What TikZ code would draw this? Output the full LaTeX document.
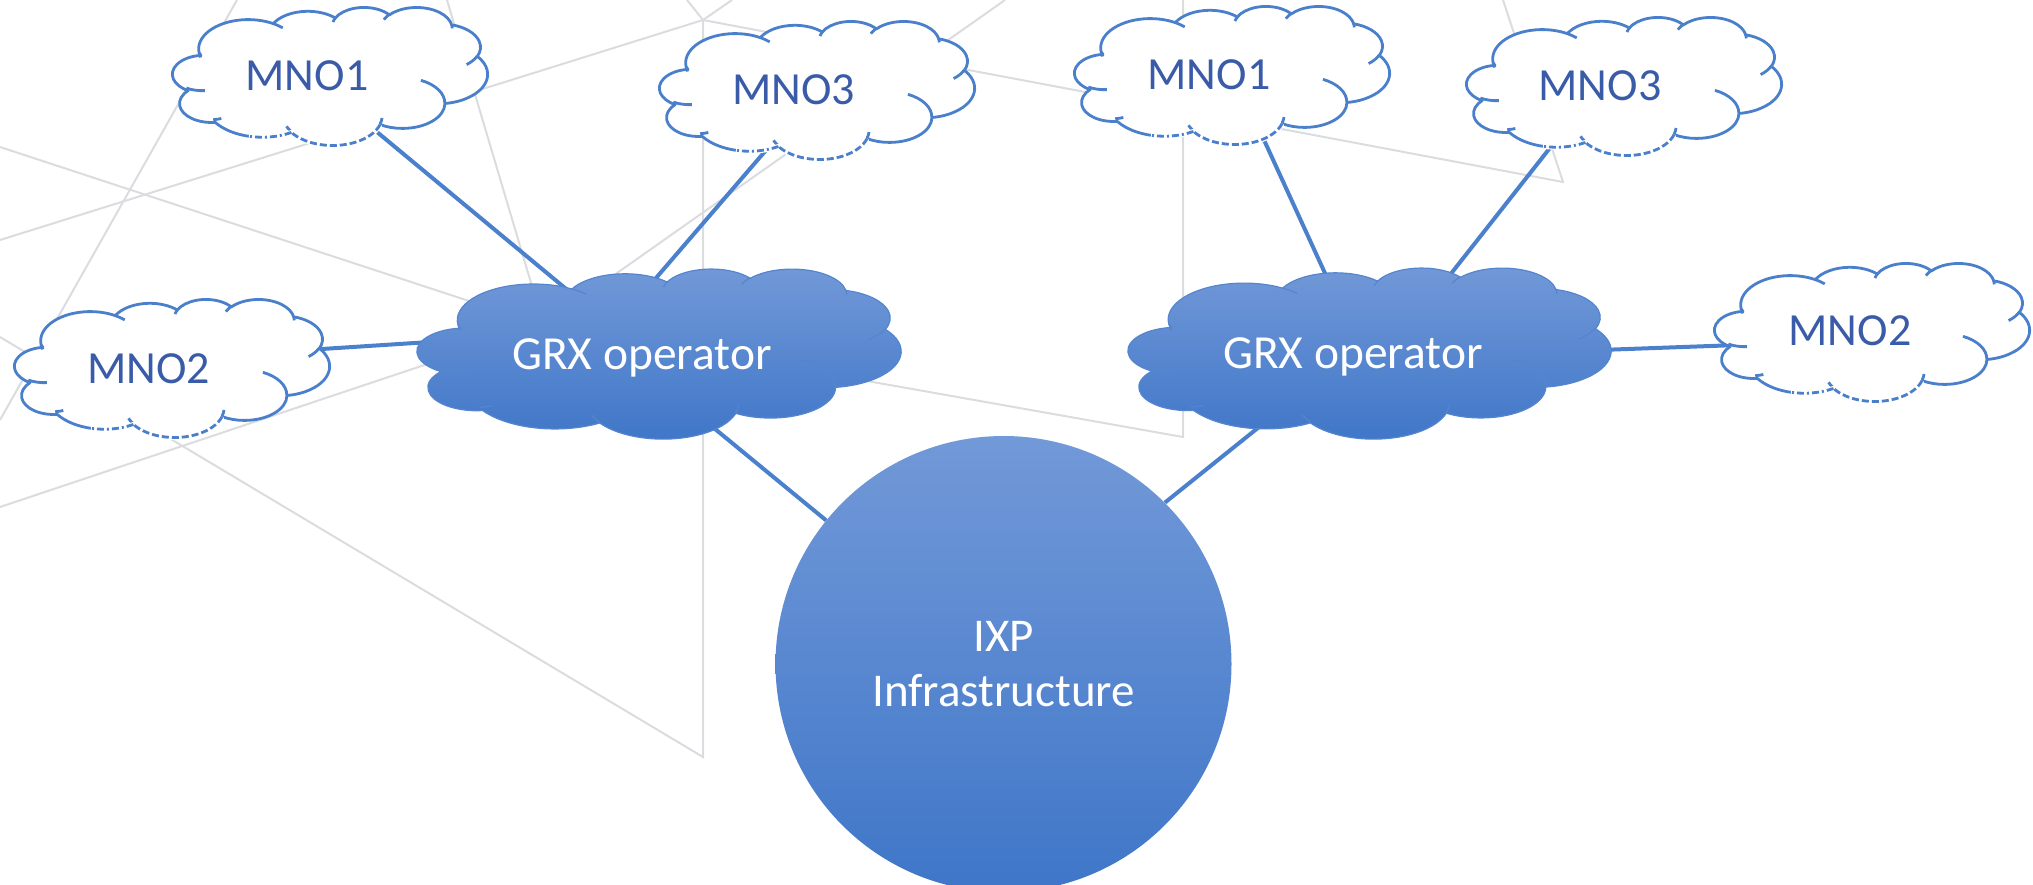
\documentclass[tikz,border=0pt]{standalone}
\usepackage{fontspec}
\setmainfont{Carlito}
\usetikzlibrary{calc}
\pgfdeclarelayer{bg}
\pgfdeclarelayer{links}
\pgfsetlayers{bg,links,main}

\definecolor{gline}{HTML}{DADCE0}
\definecolor{mnoline}{HTML}{4A7FCB}
\definecolor{mnotext}{HTML}{3A5BA8}
\definecolor{conn}{HTML}{4A80CC}
\definecolor{gtop}{HTML}{7299D8}
\definecolor{gbot}{HTML}{3F76C8}
\definecolor{grxline}{HTML}{5585CE}

% arcs of the Office cloud, visual angles -> parametric angles
\newcommand\mkarc[5]{%
  \pgfmathsetmacro\tmpS{atan2((#2)*sin(#4),(#3)*cos(#4))}%
  \pgfmathsetmacro\tmpE{atan2((#2)*sin((#4)+(#5)),(#3)*cos((#4)+(#5)))}%
  \pgfmathsetmacro\tmpE{\tmpE+360*(\tmpE<\tmpS)}%
  \expandafter\xdef\csname cldS#1\endcsname{\tmpS}%
  \expandafter\xdef\csname cldE#1\endcsname{\tmpE}%
  \expandafter\xdef\csname cldX#1\endcsname{#2}%
  \expandafter\xdef\csname cldY#1\endcsname{#3}}
\newcommand\carc[1]{arc[start angle=\csname cldS#1\endcsname,end angle=\csname cldE#1\endcsname,x radius=\csname cldX#1\endcsname,y radius=\csname cldY#1\endcsname]}

\mkarc{1}{67.53}{91.90}{-190.4875}{123.7805}
\mkarc{2}{53.33}{72.67}{-144.1024}{89.9452}
\mkarc{3}{43.65}{59.45}{-145.8079}{99.7230}
\mkarc{4}{48.57}{65.95}{-130.9861}{117.2417}
\mkarc{5}{53.33}{72.73}{-78.7089}{109.0269}
\mkarc{6}{67.75}{92.20}{-46.2673}{130.2690}
\mkarc{7}{57.85}{78.67}{0.6250}{114.0333}
\mkarc{8}{67.52}{92.15}{22.4516}{115.1726}
\mkarc{9}{77.20}{105.43}{66.2426}{71.2588}
\mkarc{9a}{77.20}{105.43}{66.2426}{33.76}
\mkarc{10}{43.60}{59.18}{-274.9421}{146.7356}
\mkarc{11}{43.45}{59.45}{-246.8285}{152.5189}
\mkarc{w1}{43.45}{59.45}{86.742}{26.4295}
\mkarc{w2}{43.60}{59.18}{73.6105}{11.4475}
\mkarc{w3}{67.52}{92.15}{137.6242}{14.0811}
\mkarc{w4}{67.52}{92.15}{6.4533}{15.9984}
\mkarc{w5}{57.85}{78.67}{-70.2924}{70.9174}
\mkarc{w6}{53.33}{72.73}{30.3180}{27.7515}
\mkarc{w7}{48.57}{65.95}{-13.7443}{14.8589}
\mkarc{w8}{48.57}{65.95}{-149.1815}{18.1954}
\mkarc{w9}{43.65}{59.45}{-163.4943}{17.6864}
\mkarc{w10}{67.53}{91.90}{-66.7070}{12.3194}
\mkarc{w11}{67.53}{91.90}{157.6544}{11.8582}

% #1 x0, #2 y0, #3 w, #4 h, #5 body style, #6 wrinkle style, #7 dashed bottom (1/0)
\newcommand\cloudshape[7]{%
  \pgfmathsetmacro\cldsx{#3/432}%
  \pgfmathsetmacro\cldsy{#4/432}%
  \begin{scope}[shift={(#1,#2)}]
  \begin{scope}[x=\cldsx pt,y=-\cldsy pt]
    \path[#5] (39.00,143.70) \carc{1} \carc{2} \carc{3} \carc{4} \carc{5} \carc{6} \carc{7}
      coordinate (cj8) \carc{8} coordinate (cj9) \carc{9} \carc{10} \carc{11} -- cycle;
    \path[#6] (46.93,261.77) \carc{w1} (69.28,348.99) \carc{w2}
      (164.78,390.90) \carc{w3} (288.27,347.51) \carc{w4}
      (341.29,229.54) \carc{w5} (417.98,153.54) \carc{w6}
      (383.24,54.26) \carc{w7} (290.78,39.52) \carc{w8}
      (221.41,47.20) \carc{w9} (140.00,51.92) \carc{w10}
      (41.27,157.89) \carc{w11};
    \ifnum#7=1
      \draw[white,line width=5pt] (cj8) \carc{8} \carc{9a};
      \draw[mnoline,line width=2.8pt,dash pattern=on 7pt off 3pt] (cj8) \carc{8};
      \draw[mnoline,line width=2.8pt,dash pattern=on 7pt off 3pt on 2pt off 3pt] (cj9) \carc{9a};
    \fi
  \end{scope}
  \end{scope}}

\begin{document}
\begin{tikzpicture}[x=1pt,y=-1pt,
  grayline/.style={draw=gline,line width=2pt},
  link/.style={draw=conn,line width=4pt},
  mnotxt/.style={text=mnotext,font=\fontsize{46}{55}\selectfont,inner sep=0pt,anchor=base},
  grxtxt/.style={text=white,font=\fontsize{47.5}{57}\selectfont,inner sep=0pt,anchor=base},
  mnobody/.style={fill=white,draw=mnoline,line width=2.8pt,line join=round},
  mnowrinkle/.style={draw=mnoline,line width=2.8pt},
  grxbody/.style={top color=gtop,bottom color=gbot,draw=grxline,line width=1.2pt,line join=round},
  grxwrinkle/.style={draw=grxline,line width=1.2pt}]
\useasboundingbox (0,0) rectangle (2033,884);
\clip (0,0) rectangle (2033,884);

% clouds
\cloudshape{170.5}{7}{317}{138}{mnobody}{mnowrinkle}{1}
\cloudshape{12.5}{299}{317}{138}{mnobody}{mnowrinkle}{1}
\cloudshape{657.5}{21}{317}{138}{mnobody}{mnowrinkle}{1}
\cloudshape{1072.5}{6}{317}{138}{mnobody}{mnowrinkle}{1}
\cloudshape{1464.5}{17}{317}{138}{mnobody}{mnowrinkle}{1}
\cloudshape{1712.5}{263}{317}{138}{mnobody}{mnowrinkle}{1}
\cloudshape{414}{268.5}{487}{170}{grxbody}{grxwrinkle}{0}
\cloudshape{1125}{267.5}{486}{171}{grxbody}{grxwrinkle}{0}

% nodes
\node[circle,minimum size=456pt,inner sep=0pt,top color=gtop,bottom color=gbot,
  text=white,align=center,font=\fontsize{47}{55}\selectfont] (ixp) at (1003.5,664) {IXP\\Infrastructure};
\node[mnotxt] (mnoAl) at (307,90) {MNO1};
\node[mnotxt] (mnoBl) at (148.5,383) {MNO2};
\node[mnotxt] (mnoCl) at (793.5,104) {MNO3};
\node[mnotxt] (mnoAr) at (1209,89) {MNO1};
\node[mnotxt] (mnoCr) at (1600,100) {MNO3};
\node[mnotxt] (mnoBr) at (1850,345) {MNO2};
\node[grxtxt] (grxl) at (642,369) {GRX operator};
\node[grxtxt] (grxr) at (1353,368) {GRX operator};

% connectors
\begin{pgfonlayer}{links}
\draw[link] ($(mnoAl.base)+(70,42)$) -- ($(grxl.base)+(-71,-76)$);
\draw[link] ($(mnoCl.base)+(-26.5,45)$) -- ($(grxl.base)+(8,-84)$);
\draw[link] ($(mnoBl.base)+(165.5,-33.5)$) -- ($(grxl.base)+(-212,-27)$);
\draw[link] ($(grxl.base)+(67,55)$) -- (ixp.141);
\draw[link] ($(mnoAr.base)+(55,51)$) -- ($(grxr.base)+(-24,-86)$);
\draw[link] ($(mnoCr.base)+(-47,44)$) -- ($(grxr.base)+(93,-88)$);
\draw[link] ($(mnoBr.base)+(-112,0)$) -- ($(grxr.base)+(247,-18)$);
\draw[link] ($(grxr.base)+(-89,55)$) -- (ixp.45);
\end{pgfonlayer}

% background network
\begin{pgfonlayer}{bg}
\draw[grayline] (237,0) -- (0,420);
\draw[grayline] (0,147) -- (600,344);
\draw[grayline] (0,240) -- (703,20) -- (1563,182) -- (1503,0);
\draw[grayline] (447,0) -- (545,330);
\draw[grayline] (0,337) -- (703,757) -- (703,20);
\draw[grayline] (0,507) -- (520,333);
\draw[grayline] (1005,0) -- (600,285);
\draw[grayline] (1183,0) -- (1183,437) -- (760,362);
\draw[grayline] (687,0) -- (703,20) -- (732,0);
\end{pgfonlayer}
\end{tikzpicture}
\end{document}
